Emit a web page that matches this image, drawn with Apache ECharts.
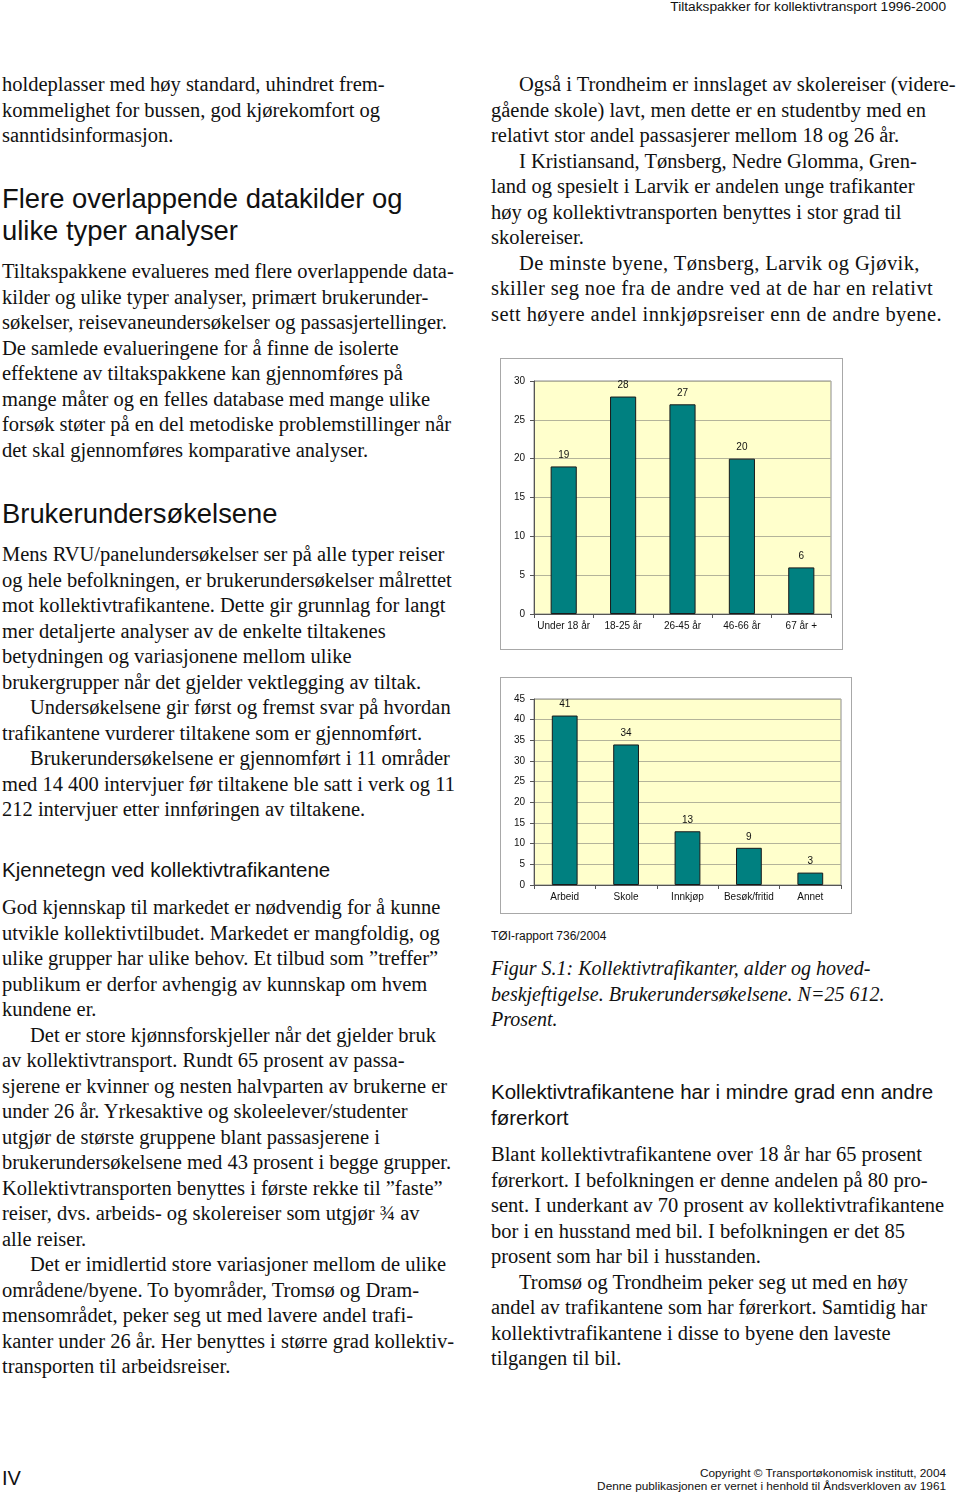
<!DOCTYPE html>
<html>
<head>
<meta charset="utf-8">
<script src="https://cdn.jsdelivr.net/npm/echarts@6/dist/echarts.min.js"></script>
<style>
  html, body { margin: 0; padding: 0; background: #fff; }
  body { width: 960px; height: 1495px; position: relative; overflow: hidden; color: #111; }
  .t { position: absolute; white-space: nowrap; font-family: "Liberation Serif", "Times New Roman", serif; font-size: 20.5px; line-height: 25.5px; }
  .t .i { padding-left: 28px; }
  .wide { letter-spacing: 0.42px; }
  .h1 { position: absolute; white-space: nowrap; font-family: "Liberation Sans", Arial, sans-serif; font-size: 27.4px; line-height: 32px; }
  .h2 { position: absolute; white-space: nowrap; font-family: "Liberation Sans", Arial, sans-serif; font-size: 20.5px; line-height: 25.5px; }
  .sans { position: absolute; white-space: nowrap; font-family: "Liberation Sans", Arial, sans-serif; }
  .chart { position: absolute; border: 1px solid #a8a8a8; box-sizing: border-box; }
  .cap { font-style: italic; font-size: 20px; }
</style>
</head>
<body>

<div class="sans" style="right:14px; top:-1px; font-size:13.7px; line-height:16px;">Tiltakspakker for kollektivtransport 1996-2000</div>

<!-- venstre spalte -->
<div class="t" style="left:2px; top:72px;">
holdeplasser med høy standard, uhindret frem-<br>
kommelighet for bussen, god kjørekomfort og<br>
sanntidsinformasjon.
</div>

<div class="h1" style="left:2px; top:183px;">
Flere overlappende datakilder og<br>
ulike typer analyser
</div>

<div class="t" style="left:2px; top:259px;">
Tiltakspakkene evalueres med flere overlappende data-<br>
kilder og ulike typer analyser, primært brukerunder-<br>
søkelser, reisevaneundersøkelser og passasjertellinger.<br>
De samlede evalueringene for å finne de isolerte<br>
effektene av tiltakspakkene kan gjennomføres på<br>
mange måter og en felles database med mange ulike<br>
forsøk støter på en del metodiske problemstillinger når<br>
det skal gjennomføres komparative analyser.
</div>

<div class="h1" style="left:2px; top:498px;">Brukerundersøkelsene</div>

<div class="t" style="left:2px; top:542px;">
Mens RVU/panelundersøkelser ser på alle typer reiser<br>
og hele befolkningen, er brukerundersøkelser målrettet<br>
mot kollektivtrafikantene. Dette gir grunnlag for langt<br>
mer detaljerte analyser av de enkelte tiltakenes<br>
betydningen og variasjonene mellom ulike<br>
brukergrupper når det gjelder vektlegging av tiltak.<br>
<span class="i">Undersøkelsene gir først og fremst svar på hvordan</span><br>
trafikantene vurderer tiltakene som er gjennomført.<br>
<span class="i">Brukerundersøkelsene er gjennomført i 11 områder</span><br>
med 14 400 intervjuer før tiltakene ble satt i verk og 11<br>
212 intervjuer etter innføringen av tiltakene.
</div>

<div class="h2" style="left:2px; top:857px;">Kjennetegn ved kollektivtrafikantene</div>

<div class="t" style="left:2px; top:895px;">
God kjennskap til markedet er nødvendig for å kunne<br>
utvikle kollektivtilbudet. Markedet er mangfoldig, og<br>
ulike grupper har ulike behov. Et tilbud som ”treffer”<br>
publikum er derfor avhengig av kunnskap om hvem<br>
kundene er.<br>
<span class="i">Det er store kjønnsforskjeller når det gjelder bruk</span><br>
av kollektivtransport. Rundt 65 prosent av passa-<br>
sjerene er kvinner og nesten halvparten av brukerne er<br>
under 26 år. Yrkesaktive og skoleelever/studenter<br>
utgjør de største gruppene blant passasjerene i<br>
brukerundersøkelsene med 43 prosent i begge grupper.<br>
Kollektivtransporten benyttes i første rekke til ”faste”<br>
reiser, dvs. arbeids- og skolereiser som utgjør ¾ av<br>
alle reiser.<br>
<span class="i">Det er imidlertid store variasjoner mellom de ulike</span><br>
områdene/byene. To byområder, Tromsø og Dram-<br>
mensområdet, peker seg ut med lavere andel trafi-<br>
kanter under 26 år. Her benyttes i større grad kollektiv-<br>
transporten til arbeidsreiser.
</div>

<!-- høyre spalte -->
<div class="t" style="left:491px; top:72px;">
<span class="i">Også i Trondheim er innslaget av skolereiser (videre-</span><br>
gående skole) lavt, men dette er en studentby med en<br>
relativt stor andel passasjerer mellom 18 og 26 år.<br>
<span class="i">I Kristiansand, Tønsberg, Nedre Glomma, Gren-</span><br>
land og spesielt i Larvik er andelen unge trafikanter<br>
høy og kollektivtransporten benyttes i stor grad til<br>
skolereiser.<br>
<span class="i wide">De minste byene, Tønsberg, Larvik og Gjøvik,</span><br>
<span class="wide">skiller seg noe fra de andre ved at de har en relativt</span><br>
<span class="wide">sett høyere andel innkjøpsreiser enn de andre byene.</span>
</div>

<div id="chartAge" class="chart" style="left:500px; top:358px; width:343px; height:292px;"></div>
<div id="chartPurpose" class="chart" style="left:500px; top:677px; width:352px; height:237px;"></div>

<div class="sans" style="left:491px; top:928px; font-size:12px; line-height:16px;">TØI-rapport 736/2004</div>

<div class="t cap" style="left:491px; top:956px;">
Figur S.1: Kollektivtrafikanter, alder og hoved-<br>
beskjeftigelse. Brukerundersøkelsene. N=25 612.<br>
Prosent.
</div>

<div class="h2" style="left:491px; top:1079px;">
Kollektivtrafikantene har i mindre grad enn andre<br>
førerkort
</div>

<div class="t" style="left:491px; top:1142px;">
Blant kollektivtrafikantene over 18 år har 65 prosent<br>
førerkort. I befolkningen er denne andelen på 80 pro-<br>
sent. I underkant av 70 prosent av kollektivtrafikantene<br>
bor i en husstand med bil. I befolkningen er det 85<br>
prosent som har bil i husstanden.<br>
<span class="i">Tromsø og Trondheim peker seg ut med en høy</span><br>
andel av trafikantene som har førerkort. Samtidig har<br>
kollektivtrafikantene i disse to byene den laveste<br>
tilgangen til bil.
</div>

<div class="sans" style="left:2px; top:1466px; font-size:20px; line-height:24px;">IV</div>
<div class="sans" style="right:14px; top:1467px; font-size:11.8px; line-height:13px; text-align:right;">
Copyright © Transportøkonomisk institutt, 2004<br>
Denne publikasjonen er vernet i henhold til Åndsverkloven av 1961
</div>

<script>
// Figur S.1 – alder
var ageCategories = ['Under 18 år', '18-25 år', '26-45 år', '46-66 år', '67 år +'];
var ageValues = [19, 28, 27, 20, 6];
var ageTicks = {min: 0, max: 30, interval: 5};

// Figur S.1 – hovedbeskjeftigelse / reiseformål
var purposeCategories = ['Arbeid', 'Skole', 'Innkjøp', 'Besøk/fritid', 'Annet'];
var purposeValues = [41, 34, 13, 9, 3];
var purposeTicks = {min: 0, max: 45, interval: 5};

var fontName = '"Liberation Sans", Arial, sans-serif';

function barOption(cats, vals, ticks, grid, barWidth) {
    return {
        animation: false,
        grid: {
            left: grid[0], right: grid[1], top: grid[2], bottom: grid[3],
            show: true,
            backgroundColor: '#FFFFCC',
            borderColor: '#8c8c8c',
            borderWidth: 1
        },
        xAxis: {
            type: 'category',
            data: cats,
            axisLine: {lineStyle: {color: '#555', width: 1}},
            axisTick: {show: true, length: 4, lineStyle: {color: '#555'}},
            axisLabel: {interval: 0, color: '#111', fontSize: 10, fontFamily: fontName, margin: 7}
        },
        yAxis: {
            type: 'value',
            min: ticks.min,
            max: ticks.max,
            interval: ticks.interval,
            axisLine: {show: true, lineStyle: {color: '#555', width: 1}},
            axisTick: {show: true, length: 4, lineStyle: {color: '#555'}},
            axisLabel: {color: '#111', fontSize: 10, fontFamily: fontName, margin: 9},
            splitLine: {lineStyle: {color: '#b4b49a', width: 1}}
        },
        series: [{
            type: 'bar',
            data: vals,
            barWidth: barWidth,
            itemStyle: {color: '#008080', borderColor: '#1a1a1a', borderWidth: 1},
            label: {
                show: true,
                position: 'top',
                distance: 6,
                color: '#111',
                fontSize: 10,
                fontFamily: fontName
            }
        }]
    };
}

var ageChart = echarts.init(document.getElementById('chartAge'));
ageChart.setOption(barOption(ageCategories, ageValues, ageTicks, [33, 11, 22, 35], '44%'));

var purposeChart = echarts.init(document.getElementById('chartPurpose'));
purposeChart.setOption(barOption(purposeCategories, purposeValues, purposeTicks, [33, 10, 21, 28], '42%'));
</script>
</body>
</html>
